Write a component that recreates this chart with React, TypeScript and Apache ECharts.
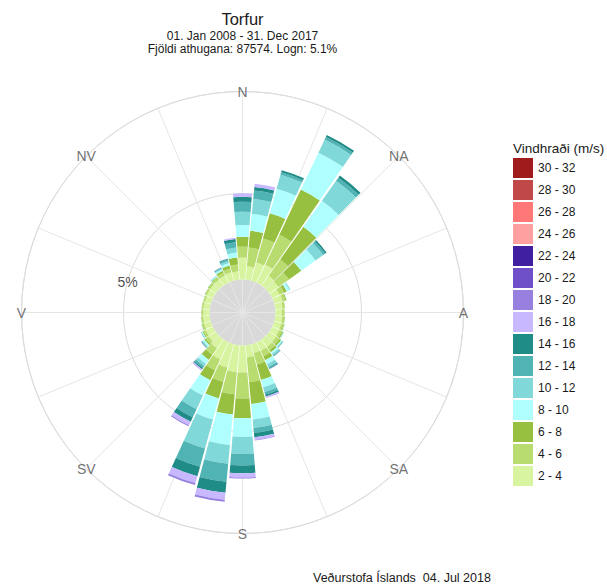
import React, { useEffect, useRef } from 'react';
import * as echarts from 'echarts';

// Wind directions (degrees, 10° sectors)
const directions = ['0', '10', '20', '30', '40', '50', '60', '70', '80', '90', '100', '110',
  '120', '130', '140', '150', '160', '170', '180', '190', '200', '210', '220', '230',
  '240', '250', '260', '270', '280', '290', '300', '310', '320', '330', '340', '350'];

// Wind speed classes (m/s), inner to outer
const speedClasses = ['2 - 4', '4 - 6', '6 - 8', '8 - 10', '10 - 12', '12 - 14', '14 - 16',
  '16 - 18', '18 - 20', '20 - 22', '22 - 24', '24 - 26', '26 - 28', '28 - 30', '30 - 32'];
const classColors = ['#d8f4a0', '#b8dc70', '#98c040', '#b0ffff', '#80d8d8', '#50b4b4', '#208c88',
  '#c8b8ff', '#9880e0', '#7050c8', '#4020a0', '#ffa0a0', '#ff7878', '#c04848', '#a01c1c'];

// Frequency (%) per direction for each speed class
const s2_4 = [1.28, 0.78, 1.10, 1.16, 0.70, 0.64, 0.47, 0.50, 0.42, 0.38, 0.40, 0.42,
  0.45, 0.50, 0.52, 0.55, 0.52, 0.70, 1.57, 1.57, 1.40, 1.10, 0.64, 0.50,
  0.45, 0.40, 0.38, 0.36, 0.36, 0.35, 0.38, 0.40, 0.42, 0.45, 0.50, 0.49];
const s4_6 = [0.63, 1.09, 1.45, 1.92, 1.16, 0.76, 0.29, 0.18, 0.12, 0.11, 0.13, 0.15,
  0.18, 0.22, 0.25, 0.35, 0.70, 1.45, 1.51, 1.28, 0.87, 0.70, 0.47, 0.20,
  0.15, 0.12, 0.10, 0.09, 0.09, 0.09, 0.10, 0.12, 0.14, 0.20, 0.24, 0.40];
const s6_8 = [0.58, 0.98, 1.51, 2.91, 2.33, 0.87, 0.17, 0.06, 0.03, 0.03, 0.04, 0.05,
  0.08, 0.12, 0.15, 0.25, 0.93, 1.28, 1.15, 1.19, 0.99, 0.64, 0.35, 0.10,
  0.06, 0.04, 0.03, 0.02, 0.02, 0.02, 0.03, 0.04, 0.06, 0.12, 0.18, 0.40];
const s8_10 = [0.68, 0.99, 1.49, 2.38, 1.86, 1.02, 0.17, 0.02, 0.01, 0.00, 0.01, 0.02,
  0.03, 0.07, 0.12, 0.25, 0.44, 0.90, 1.09, 1.78, 1.28, 0.99, 0.29, 0.10,
  0.05, 0.02, 0.01, 0.00, 0.00, 0.01, 0.01, 0.02, 0.04, 0.08, 0.14, 0.29];
const s10_12 = [0.77, 0.88, 0.84, 0.84, 1.42, 0.55, 0.06, 0.00, 0.00, 0.00, 0.00, 0.00,
  0.02, 0.05, 0.10, 0.17, 0.29, 0.49, 0.99, 1.10, 1.74, 0.87, 0.17, 0.07,
  0.03, 0.00, 0.00, 0.00, 0.00, 0.00, 0.00, 0.00, 0.02, 0.06, 0.12, 0.29];
const s12_14 = [0.58, 0.49, 0.15, 0.17, 0.23, 0.15, 0.00, 0.00, 0.00, 0.00, 0.00, 0.00,
  0.00, 0.03, 0.05, 0.10, 0.15, 0.29, 0.67, 1.05, 1.10, 0.52, 0.12, 0.04,
  0.02, 0.00, 0.00, 0.00, 0.00, 0.00, 0.00, 0.00, 0.02, 0.05, 0.10, 0.31];
const s14_16 = [0.29, 0.20, 0.12, 0.12, 0.15, 0.09, 0.00, 0.00, 0.00, 0.00, 0.00, 0.00,
  0.00, 0.01, 0.02, 0.04, 0.12, 0.26, 0.45, 0.64, 0.58, 0.29, 0.09, 0.02,
  0.00, 0.00, 0.00, 0.00, 0.00, 0.00, 0.00, 0.00, 0.00, 0.02, 0.04, 0.19];
const s16_18 = [0.20, 0.19, 0.00, 0.00, 0.00, 0.00, 0.00, 0.00, 0.00, 0.00, 0.00, 0.00,
  0.00, 0.00, 0.01, 0.03, 0.09, 0.15, 0.24, 0.41, 0.41, 0.23, 0.09, 0.02,
  0.00, 0.00, 0.00, 0.00, 0.00, 0.00, 0.00, 0.00, 0.00, 0.01, 0.02, 0.08];
const s18_20 = [0.00, 0.00, 0.00, 0.00, 0.00, 0.00, 0.00, 0.00, 0.00, 0.00, 0.00, 0.00,
  0.00, 0.00, 0.00, 0.00, 0.00, 0.03, 0.06, 0.12, 0.12, 0.06, 0.00, 0.00,
  0.00, 0.00, 0.00, 0.00, 0.00, 0.00, 0.00, 0.00, 0.00, 0.00, 0.00, 0.00];
const classData: number[][] = [s2_4, s4_6, s6_8, s8_10, s10_12, s12_14, s14_16, s16_18, s18_20,
  [], [], [], [], [], []];

// Radial scale (percent units)
const calmOffset = 1.92; // radius of the calm disc
const radialMax = 12.85;
const gridRing = 5; // labelled ring "5%"
const ringLabelAngle = 285;

const compassLabels = ['N', 'NA', 'A', 'SA', 'S', 'SV', 'V', 'NV'];
const compassAngles = [0, 45, 90, 135, 180, 225, 270, 315];

const titleMain = 'Torfur';
const titleLine2 = '01. Jan 2008 - 31. Dec 2017';
const titleLine3 = 'Fjöldi athugana: 87574. Logn: 5.1%';
const legendTitle = 'Vindhraði (m/s)';
const footer = 'Veðurstofa Íslands  04. Jul 2018';

const FONT = '"Liberation Sans", Arial, Helvetica, sans-serif';

export default function App() {
  const ref = useRef<HTMLDivElement>(null);
  useEffect(() => {
    if (!ref.current) return;
    const chart = echarts.init(ref.current, undefined, { renderer: 'svg' });
    const center = [242.5, 312.5];
    const R = 221;
    const barSeries = speedClasses.map((name, i) => ({
      type: 'bar',
      name,
      coordinateSystem: 'polar',
      polarIndex: 0,
      stack: 'wind',
      data: classData[i],
      barCategoryGap: '8%',
      itemStyle: { color: classColors[i] },
      z: 3,
    }));
    const txt = (size: number, lh?: number) => ({ fontSize: size, lineHeight: lh, fontWeight: 'normal', color: '#1a1a1a', fontFamily: FONT });
    const option: any = {
      animation: false,
      textStyle: { fontFamily: FONT },
      title: [
        { text: titleMain, left: 242.5, top: 10, padding: 0, textAlign: 'center', textStyle: txt(16.5, 17) },
        { text: titleLine2, left: 242.5, top: 29.5, padding: 0, textAlign: 'center', textStyle: txt(12, 12) },
        { text: titleLine3, left: 242.5, top: 43, padding: 0, textAlign: 'center', textStyle: txt(12, 12) },
        { text: legendTitle, left: 513, top: 141, padding: 0, textStyle: txt(13.5) },
        { text: footer, left: 313, top: 571, padding: 0, textStyle: txt(12.5, 13) },
      ],
      legend: {
        data: [...speedClasses].reverse(),
        orient: 'vertical',
        left: 513,
        top: 158,
        padding: 0,
        itemWidth: 20,
        itemHeight: 20,
        itemGap: 2,
        icon: 'rect',
        selectedMode: false,
        textStyle: { fontSize: 12, color: '#1a1a1a', fontFamily: FONT },
      },
      polar: [
        { center, radius: R },
        { center, radius: R },
      ],
      angleAxis: [
        {
          polarIndex: 0, type: 'category', data: directions, startAngle: 95, clockwise: true,
          boundaryGap: true, axisLine: { show: false }, axisTick: { show: false },
          axisLabel: { show: false }, splitLine: { show: false }, z: 1,
        },
        {
          polarIndex: 1, type: 'value', min: 0, max: 360, interval: 22.5, startAngle: 90, clockwise: true,
          axisLine: { show: true, lineStyle: { color: '#dcdcdc', width: 1 } },
          axisTick: { show: false }, axisLabel: { show: false },
          splitLine: { show: true, lineStyle: { color: '#e6e6e6', width: 1 } }, z: 1,
        },
      ],
      radiusAxis: [
        {
          polarIndex: 0, type: 'value', min: 0, max: radialMax, interval: calmOffset + gridRing,
          axisLine: { show: false }, axisTick: { show: false }, axisLabel: { show: false },
          splitLine: { show: true, lineStyle: { color: '#dcdcdc', width: 1 } }, z: 1,
        },
        {
          polarIndex: 1, type: 'value', min: 0, max: radialMax, interval: calmOffset,
          axisLine: { show: false }, axisTick: { show: false }, axisLabel: { show: false },
          splitLine: { show: false },
          splitArea: { show: true, areaStyle: { color: ['#d9d9d9', 'rgba(0,0,0,0)', 'rgba(0,0,0,0)', 'rgba(0,0,0,0)', 'rgba(0,0,0,0)', 'rgba(0,0,0,0)', 'rgba(0,0,0,0)', 'rgba(0,0,0,0)'] } },
          z: 0,
        },
      ],
      series: [
        {
          type: 'bar', name: '_calm', coordinateSystem: 'polar', polarIndex: 0, stack: 'wind',
          data: directions.map(() => calmOffset), barCategoryGap: '8%',
          itemStyle: { color: 'rgba(0,0,0,0)' }, silent: true, z: 3,
        },
        ...barSeries,
        {
          type: 'scatter', coordinateSystem: 'polar', polarIndex: 1, symbolSize: 0, silent: true,
          itemStyle: { color: 'rgba(0,0,0,0)' },
          data: compassLabels.map((n, i) => ({ name: n, value: [radialMax, compassAngles[i]] })),
          label: { show: true, position: 'inside', formatter: '{b}', fontSize: 14, color: '#4d4d4d', fontFamily: FONT },
          z: 4,
        },
        {
          type: 'scatter', coordinateSystem: 'polar', polarIndex: 1, symbolSize: 0, silent: true,
          itemStyle: { color: 'rgba(0,0,0,0)' },
          data: [{ name: gridRing + '%', value: [calmOffset + gridRing, ringLabelAngle] }],
          label: { show: true, position: 'inside', formatter: '{b}', fontSize: 14, color: '#1a1a1a', fontFamily: FONT },
          z: 4,
        },
      ],
    };
    chart.setOption(option);
    return () => chart.dispose();
  }, []);
  return <div ref={ref} style={{ position: 'fixed', left: 0, top: 0, width: 607, height: 585, background: '#fff' }} />;
}
